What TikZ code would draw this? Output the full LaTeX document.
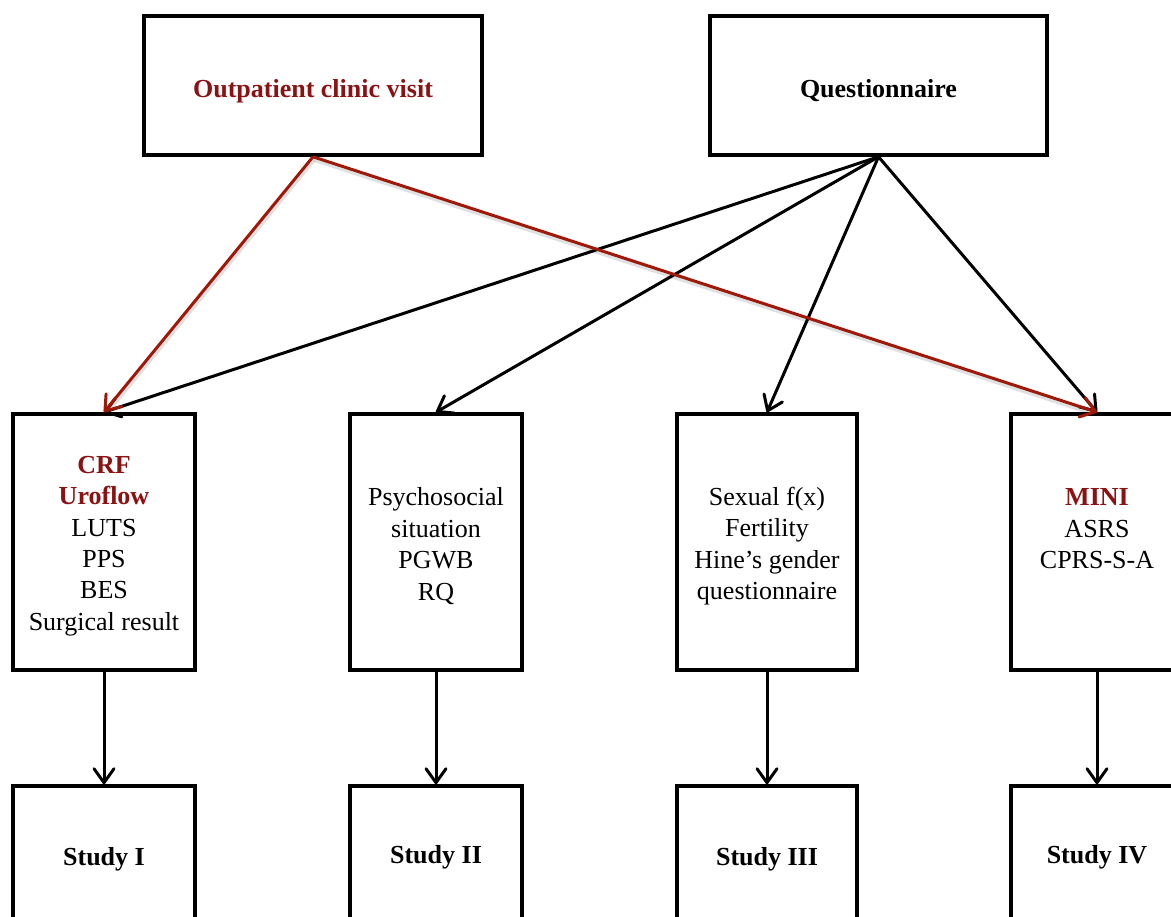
\documentclass[tikz,border=0pt]{standalone}
\usepackage{fontspec}
\setmainfont{Liberation Serif}
\usetikzlibrary{arrows.meta}
\definecolor{darkred}{RGB}{139,18,18}
\definecolor{arrowred}{RGB}{160,24,8}
\begin{document}
\begin{tikzpicture}[x=1pt,y=1pt,
  box/.style={draw=black,line width=3.6pt,rectangle,inner sep=0pt,
    align=center,font=\fontsize{26}{31.4}\selectfont},
  txt/.style={align=center,inner sep=0pt,font=\fontsize{26}{31.4}\selectfont},
  conn/.style={line width=3pt,line join=round,
    -{Straight Barb[length=14pt,width=20pt,line join=round,line cap=round]}},
  redconn/.style={conn,draw=arrowred},
  shade/.style={line width=4pt,draw=black,opacity=0.12,shorten >=8pt}]
\useasboundingbox (0,0) rectangle (1171,-917);

% top row
\node[box,minimum width=338pt,minimum height=139pt] (visit) at (313,-85.5) {};
\node[txt] (visitt) at (313,-91) {\textbf{\textcolor{darkred}{Outpatient clinic visit}}};
\node[box,minimum width=337pt,minimum height=139pt] (quest) at (878.5,-85.5) {};
\node[txt] (questt) at (878.5,-91) {\textbf{Questionnaire}};

% instrument boxes
\node[box,minimum width=182pt,minimum height=256pt] (m1) at (104,-542) {};
\node[txt] (m1t) at (104,-546)
  {\textbf{\textcolor{darkred}{CRF}}\\\textbf{\textcolor{darkred}{Uroflow}}\\LUTS\\PPS\\BES\\Surgical result};
\node[box,minimum width=172pt,minimum height=256pt] (m2) at (436,-542) {};
\node[txt] (m2t) at (436,-546) {Psychosocial\\situation\\PGWB\\RQ};
\node[box,minimum width=180pt,minimum height=256pt] (m3) at (767,-542) {};
\node[txt] (m3t) at (767,-546) {Sexual f(x)\\Fertility\\Hine’s gender\\questionnaire};
\node[box,minimum width=172pt,minimum height=256pt] (m4) at (1097,-542) {};
\node[txt] (m4t) at (1097,-529)
  {\textbf{\textcolor{darkred}{MINI}}\\ASRS\\CPRS-S-A};

% study boxes
\node[box,minimum width=182pt,minimum height=140pt] (s1) at (104,-856) {};
\node[txt] at (104,-859) {\textbf{Study I}};
\node[box,minimum width=172pt,minimum height=140pt] (s2) at (436,-856) {};
\node[txt] at (436,-857) {\textbf{Study II}};
\node[box,minimum width=180pt,minimum height=140pt] (s3) at (767,-856) {};
\node[txt] at (767,-859) {\textbf{Study III}};
\node[box,minimum width=172pt,minimum height=140pt] (s4) at (1097,-856) {};
\node[txt] at (1097,-857) {\textbf{Study IV}};

% soft shadow under the clinic visit connectors
\draw[shade] ([shift={(1,-3)}]visit.south) -- ([shift={(1,-3)}]m1.north);
\draw[shade] ([shift={(1,-3)}]visit.south) -- ([shift={(1,-3)}]m4.north);

% questionnaire connectors
\draw[conn] (quest.south) -- (m1.north);
\draw[conn] (quest.south) -- (m2.north);
\draw[conn] (quest.south) -- (m3.north);
\draw[conn] (quest.south) -- (m4.north);

% clinic visit connectors
\draw[redconn] (visit.south) -- (m1.north);
\draw[redconn] (visit.south) -- (m4.north);

% instruments to studies
\draw[conn] (m1.south) -- (s1.north);
\draw[conn] (m2.south) -- (s2.north);
\draw[conn] (m3.south) -- (s3.north);
\draw[conn] (m4.south) -- (s4.north);
\end{tikzpicture}
\end{document}
